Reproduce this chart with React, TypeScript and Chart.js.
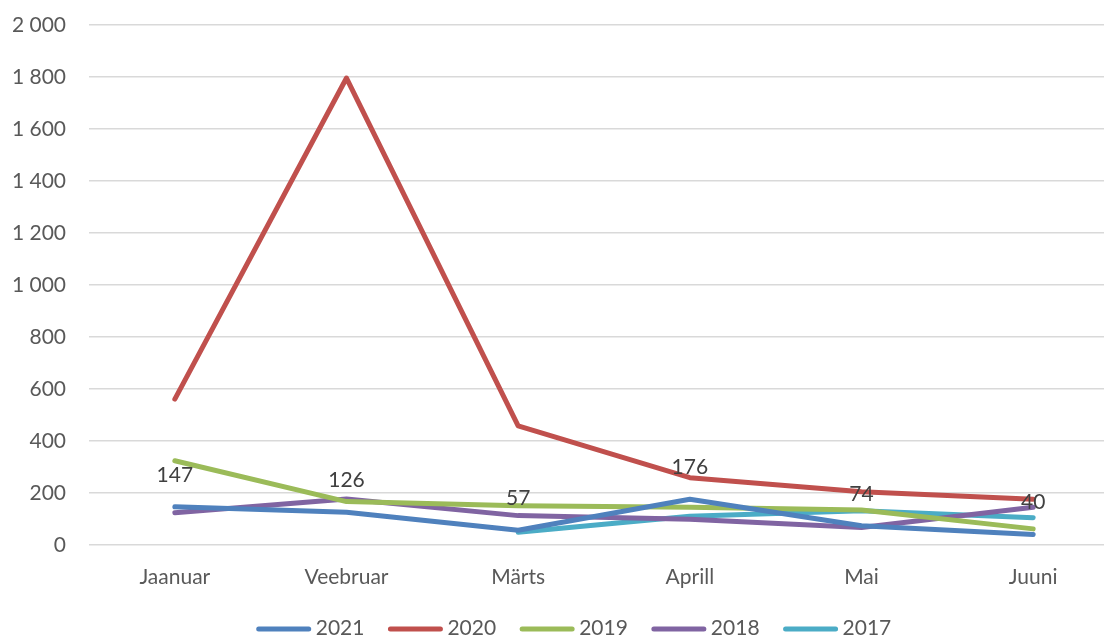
import React, { useEffect, useRef } from "react";
import { Chart, registerables } from "chart.js";

Chart.register(...registerables);

const months = ["Jaanuar", "Veebruar", "Märts", "Aprill", "Mai", "Juuni"];
const s2021 = [147, 126, 57, 176, 74, 40];
const s2020 = [561, 1796, 458, 259, 205, 176];
const s2019 = [324, 167, 151, 145, 135, 62];
const s2018 = [124, 177, 113, 99, 67, 145];
const s2017 = [null, null, 49, 111, 132, 105];
const seriesNames = ["2021", "2020", "2019", "2018", "2017"];
const seriesColors = ["#4f81bd", "#c0504d", "#9bbb59", "#8064a2", "#4bacc6"];
const yTicksMax = 2000;
const yStep = 200;

const FONT = "Lato, 'Open Sans', sans-serif";
const FONT_SIZE = 21;

const fmt = (v: number) => String(v).replace(/\B(?=(\d{3})+(?!\d))/g, " ");

const labelPlugin = {
  id: "dataLabels2021",
  afterDatasetsDraw(chart: any) {
    const ctx = chart.ctx;
    const meta = chart.getDatasetMeta(0);
    const data = chart.data.datasets[0].data as number[];
    ctx.save();
    ctx.font = `${FONT_SIZE}px ${FONT}`;
    ctx.fillStyle = "#404040";
    ctx.textAlign = "center";
    ctx.textBaseline = "middle";
    meta.data.forEach((pt: any, i: number) => {
      if (data[i] == null) return;
      ctx.fillText(String(data[i]), pt.x, pt.y - 32);
    });
    ctx.restore();
  },
};

const legendPlugin = {
  id: "customLegend",
  afterDraw(chart: any) {
    const ctx = chart.ctx;
    ctx.save();
    ctx.font = `${FONT_SIZE}px ${FONT}`;
    const lineLen = 54;
    const gapText = 5;
    const gapItem = 24;
    const ds = chart.data.datasets;
    const widths = ds.map((d: any) => lineLen + gapText + ctx.measureText(d.label).width);
    const total = widths.reduce((a: number, b: number) => a + b, 0) + gapItem * (ds.length - 1);
    let x = 574 - total / 2;
    const y = 629;
    ds.forEach((d: any, i: number) => {
      ctx.strokeStyle = d.borderColor;
      ctx.lineWidth = 5;
      ctx.lineCap = "round";
      ctx.beginPath();
      ctx.moveTo(x + 2, y);
      ctx.lineTo(x + lineLen - 2, y);
      ctx.stroke();
      ctx.fillStyle = "#595959";
      ctx.textAlign = "left";
      ctx.textBaseline = "middle";
      ctx.fillText(d.label, x + lineLen + gapText, y - 1);
      x += widths[i] + gapItem;
    });
    ctx.restore();
  },
};

export default function App() {
  const ref = useRef<HTMLCanvasElement>(null);
  useEffect(() => {
    document.body.style.margin = "0";
    const all = [s2021, s2020, s2019, s2018, s2017];
    const chart = new Chart(ref.current!, {
      type: "line",
      data: {
        labels: months,
        datasets: all.map((d, i) => ({
          label: seriesNames[i],
          data: d,
          borderColor: seriesColors[i],
          backgroundColor: seriesColors[i],
          borderWidth: 5,
          pointRadius: 0,
          pointHoverRadius: 0,
          tension: 0,
          borderCapStyle: "round",
          borderJoinStyle: "round",
          spanGaps: false,
        })) as any,
      },
      options: {
        animation: false,
        responsive: false,
        maintainAspectRatio: false,
        layout: { padding: { top: 25, right: 1, left: 0, bottom: 42 } },
        plugins: { legend: { display: false }, tooltip: { enabled: false } },
        scales: {
          x: {
            offset: true,
            grid: { display: false, drawTicks: false },
            border: { display: false },
            ticks: { color: "#595959", font: { family: FONT, size: FONT_SIZE }, padding: 20, maxRotation: 0 },
            afterFit: (s: any) => {
              s.height = 50;
              s.paddingLeft = 0;
              s.paddingRight = 0;
            },
          },
          y: {
            min: 0,
            max: yTicksMax,
            grid: { color: "#d9d9d9", lineWidth: 1.5, drawTicks: false },
            border: { display: false },
            ticks: {
              stepSize: yStep,
              color: "#595959",
              font: { family: FONT, size: FONT_SIZE },
              padding: 23,
              callback: (v: any) => fmt(Number(v)),
            },
            afterFit: (s: any) => {
              s.width = 89;
              s.paddingTop = 0;
              s.paddingBottom = 0;
            },
          },
        },
      },
      plugins: [labelPlugin, legendPlugin],
    });
    return () => chart.destroy();
  }, []);
  return (
    <div style={{ width: 1104, height: 637, overflow: "hidden", position: "relative", background: "#fff" }}>
      <canvas ref={ref} width={1120} height={637} style={{ display: "block" }} />
    </div>
  );
}
